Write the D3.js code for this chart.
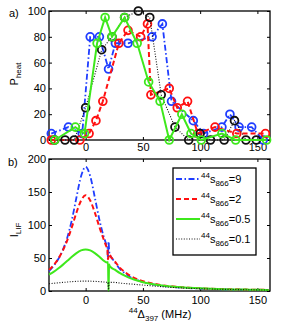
<!DOCTYPE html>
<html>
<head>
<meta charset="utf-8">
<script src="https://cdn.jsdelivr.net/npm/d3@7"></script>
<style>
body { margin: 0; background: #fff; }
svg text { font-family: "Liberation Sans", Arial, sans-serif; fill: #000; }
</style>
</head>
<body>
<div id="chart"></div>
<script>
// ---- panel a) heating probability, one series per 866 saturation ----
const blueX  = [-30, -15, -3, 4, 12, 20, 26, 37, 58, 67, 75, 94, 103, 119, 126, 134, 145, 155];
const blueY  = [5, 10, 5, 80, 80, 55, 75, 75, 80, 90, 30, 15, 5, 10, 20, 10, 10, 0];
const redX   = [-30, -5, 3, 9, 15, 29, 37, 48, 54, 57, 73, 80, 89, 98, 113, 132, 157];
const redY   = [0, 0, 5, 15, 30, 75, 85, 80, 90, 35, 40, 25, 30, 5, 10, 5, 5];
const blackX = [-27, -18, -10, 0, 14, 23, 34, 46, 56, 66, 78, 90, 100, 109, 121, 130, 140, 149];
const blackY = [0, 0, 0, 25, 70, 80, 95, 100, 95, 35, 10, 0, 5, 0, 0, 15, 0, 0];
const greenX = [-27, -9, -1, 10, 17, 23, 34, 45, 55, 65, 73, 84, 92, 101, 119, 131, 158];
const greenY = [0, 10, 5, 75, 95, 80, 95, 75, 45, 30, 0, 20, 5, 0, 5, 0, 0];

// ---- panel b) LIF signal vs detuning ----
const detuning = [-32, -28, -24, -20, -16, -12, -8, -4, 0, 4, 8, 12, 16, 18, 19, 19.5, 20, 20.5, 21, 22, 25, 30, 35, 40, 45, 50, 60, 70, 80, 90, 100, 110, 120, 130, 140, 150, 160];
const lifS9   = [30, 38, 48, 62, 81, 108, 142, 174, 188, 174, 142, 108, 81, 71, 66, 50, 75, 62, 55, 52, 45, 33, 26, 20, 16.6, 13.5, 9.7, 7.2, 5.6, 4.5, 3.6, 3.0, 2.5, 2.2, 1.9, 1.6, 1.5];
const lifS2   = [32, 39, 48.5, 61, 77, 97, 119, 137, 145, 137, 119, 97, 77, 68, 64, 48, 52, 56, 55, 52, 46, 35, 27.7, 22, 18, 15, 10.8, 8, 6.3, 5, 4.1, 3.4, 2.9, 2.5, 2.1, 1.9, 1.6];
const lifS05  = [25, 29, 34, 39.6, 45.7, 52, 57.5, 61.5, 63, 61.5, 57.5, 52, 45.7, 43.5, 43, 44, 0, 40, 38, 36, 32.7, 27, 22.5, 18.7, 15.8, 13.4, 10, 7.6, 6, 4.9, 4, 3.3, 2.8, 2.4, 2.1, 1.8, 1.6];
const lifS01  = [11, 11.7, 12.3, 13, 13.6, 14.2, 14.6, 14.9, 15, 14.9, 14.6, 14.2, 13.6, 13.3, 13.1, 13, 0, 13, 13, 13, 13, 12, 11.2, 10.5, 9.7, 9, 7.5, 6, 5, 4.2, 3.5, 3, 2.5, 2.2, 2, 1.7, 1.5];
const sLabels = ["9", "2", "0.5", "0.1"];

const xTicks = [0, 50, 100, 150];
const heatTicks = [0, 20, 40, 60, 80, 100];
const lifTicks = [0, 50, 100, 150, 200];

// line styles, same order as sLabels
const styles = [
  {color: "#1f3dff", width: 1.8, dash: "6,2.5,1.5,2.5"},
  {color: "#ff1010", width: 2,   dash: "5,3"},
  {color: "#3ee81c", width: 2,   dash: null},
  {color: "#111",    width: 1.1, dash: "1,1.6"}
];

const W = 283, H = 327;
const svg = d3.select("#chart").append("svg").attr("width", W).attr("height", H);
svg.append("rect").attr("width", W).attr("height", H).attr("fill", "#fff");

const x = d3.scaleLinear().domain([-32, 161]).range([49, 270]);
const yHeat = d3.scaleLinear().domain([0, 100]).range([140, 11]);
const yLif = d3.scaleLinear().domain([0, 200]).range([291, 159]);

// box with inward ticks on all four sides
function drawFrame(y, yTicks, pad) {
  const top = y.range()[1], bottom = y.range()[0];
  const g = svg.append("g");
  g.append("g").attr("transform", `translate(0,${bottom})`)
    .call(d3.axisBottom(x).tickValues(xTicks).tickSizeInner(-3).tickSizeOuter(0).tickPadding(pad));
  g.append("g").attr("transform", `translate(0,${top})`)
    .call(d3.axisTop(x).tickValues(xTicks).tickSizeInner(-3).tickSizeOuter(0).tickFormat(""));
  g.append("g").attr("transform", `translate(${x.range()[0]},0)`)
    .call(d3.axisLeft(y).tickValues(yTicks).tickSizeInner(-3).tickSizeOuter(0).tickPadding(3));
  g.append("g").attr("transform", `translate(${x.range()[1]},0)`)
    .call(d3.axisRight(y).tickValues(yTicks).tickSizeInner(-3).tickSizeOuter(0).tickFormat(""));
  g.selectAll(".domain").remove();
  g.selectAll(".tick line").attr("stroke", "#000").attr("stroke-width", 1);
  g.selectAll(".tick text").attr("font-size", 11).attr("font-family", "Liberation Sans, Arial, sans-serif");
  g.append("rect")
    .attr("x", x.range()[0]).attr("y", top)
    .attr("width", x.range()[1] - x.range()[0]).attr("height", bottom - top)
    .attr("fill", "none").attr("stroke", "#000").attr("stroke-width", 1.3);
}

drawFrame(yHeat, heatTicks, 3);
drawFrame(yLif, lifTicks, 5);

// ---- panel a ----
const heatSeries = [
  {xs: blueX, ys: blueY, st: styles[0]},
  {xs: redX, ys: redY, st: styles[1]},
  {xs: blackX, ys: blackY, st: styles[3]},
  {xs: greenX, ys: greenY, st: styles[2]}
];
const heatLine = d3.line().x(d => x(d[0])).y(d => yHeat(d[1]));

heatSeries.forEach(s => {
  const pts = s.xs.map((v, i) => [v, s.ys[i]]);
  const g = svg.append("g");
  g.append("path").datum(pts)
    .attr("d", heatLine)
    .attr("fill", "none")
    .attr("stroke", s.st.color)
    .attr("stroke-width", s.st.width)
    .attr("stroke-dasharray", s.st.dash);
  g.selectAll("circle").data(pts).join("circle")
    .attr("cx", d => x(d[0]))
    .attr("cy", d => yHeat(d[1]))
    .attr("r", 3.9)
    .attr("fill", "none")
    .attr("stroke", s.st.color)
    .attr("stroke-width", 1.8);
});

// ---- panel b ----
const lifSeries = [lifS9, lifS2, lifS05, lifS01];
const lifLine = d3.line().x(d => x(d[0])).y(d => yLif(d[1])).curve(d3.curveMonotoneX);

lifSeries.forEach((vals, i) => {
  const pts = detuning.map((v, j) => [v, vals[j]]);
  svg.append("path").datum(pts)
    .attr("d", lifLine)
    .attr("fill", "none")
    .attr("stroke", styles[i].color)
    .attr("stroke-width", styles[i].width)
    .attr("stroke-dasharray", styles[i].dash);
});

// legend
const leg = svg.append("g");
leg.append("rect")
  .attr("x", 173).attr("y", 168).attr("width", 83).attr("height", 87)
  .attr("fill", "#fff").attr("stroke", "#000").attr("stroke-width", 1.3);
sLabels.forEach((lab, i) => {
  const cy = 179 + i * 20;
  leg.append("line")
    .attr("x1", 176).attr("x2", 200).attr("y1", cy).attr("y2", cy)
    .attr("stroke", styles[i].color)
    .attr("stroke-width", styles[i].width)
    .attr("stroke-dasharray", styles[i].dash);
  const t = leg.append("text").attr("x", 201).attr("y", cy + 4).attr("font-size", 11);
  t.append("tspan").attr("font-size", 8).attr("dy", -5).text("44");
  t.append("tspan").attr("dy", 5).text("s");
  t.append("tspan").attr("font-size", 8).attr("dy", 3).text("866");
  t.append("tspan").attr("dy", -3).text("=" + lab);
});

// axis labels
function subLabel(tx, ty, rot, parts) {
  const t = svg.append("text")
    .attr("transform", `translate(${tx},${ty}) rotate(${rot})`)
    .attr("text-anchor", "middle")
    .attr("font-size", 11);
  parts.forEach(p => {
    t.append("tspan").attr("font-size", p.size).attr("dy", p.dy).text(p.text);
  });
}
subLabel(18, 74, -90, [{text: "P", size: 11, dy: 0}, {text: "heat", size: 8, dy: 3}]);
subLabel(18, 230, -90, [{text: "I", size: 11, dy: 0}, {text: "LIF", size: 8, dy: 3}]);
subLabel(160, 318, 0, [
  {text: "44", size: 8, dy: -5},
  {text: "\u0394", size: 11, dy: 5},
  {text: "397", size: 8, dy: 3},
  {text: " (MHz)", size: 11, dy: -3}
]);

svg.append("text").attr("x", 9).attr("y", 17).attr("font-size", 11).text("a)");
svg.append("text").attr("x", 8).attr("y", 166).attr("font-size", 11).text("b)");
</script>
</body>
</html>
